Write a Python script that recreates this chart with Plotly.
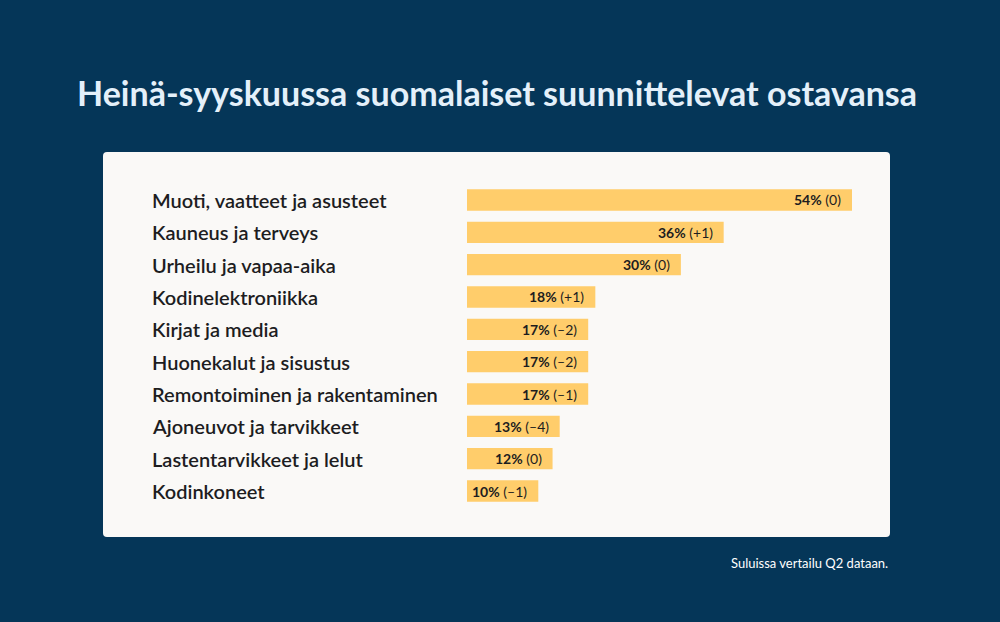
import plotly.graph_objects as go

categories = [
    "Muoti, vaatteet ja asusteet",
    "Kauneus ja terveys",
    "Urheilu ja vapaa-aika",
    "Kodinelektroniikka",
    "Kirjat ja media",
    "Huonekalut ja sisustus",
    "Remontoiminen ja rakentaminen",
    "Ajoneuvot ja tarvikkeet",
    "Lastentarvikkeet ja lelut",
    "Kodinkoneet",
]
shares = [54, 36, 30, 18, 17, 17, 17, 13, 12, 10]
changes = ["0", "+1", "0", "+1", "–2", "–2", "–1", "–4", "0", "–1"]

NAVY = "#053658"
PANEL = "#faf9f7"
BAR = "#ffcd6b"
INK = "#1d1d1f"
FONT = "Lato"

fig = go.Figure()
fig.add_trace(go.Bar(
    x=shares, y=categories, orientation="h",
    marker=dict(color=BAR, line=dict(width=0)),
    width=0.66, hoverinfo="skip",
))

# panel with slightly rounded corners (paper coords)
x0, x1, y0, y1 = 0.103, 0.890, 1 - 537 / 622, 1 - 152 / 622
rx, ry = 4 / 1000, 4 / 622
path = (f"M {x0+rx},{y0} L {x1-rx},{y0} Q {x1},{y0} {x1},{y0+ry} "
        f"L {x1},{y1-ry} Q {x1},{y1} {x1-rx},{y1} L {x0+rx},{y1} "
        f"Q {x0},{y1} {x0},{y1-ry} L {x0},{y0+ry} Q {x0},{y0} {x0+rx},{y0} Z")
fig.add_shape(type="path", path=path, xref="paper", yref="paper",
              fillcolor=PANEL, line=dict(width=0), layer="below")

for cat, val, ch in zip(categories, shares, changes):
    fig.add_annotation(x=0.150, xref="paper", y=cat, yref="y", text=cat,
                       showarrow=False, xanchor="left",
                       font=dict(family=FONT, size=20, color=INK, weight=600))
    fig.add_annotation(x=val, xref="x", y=cat, yref="y",
                       text=f"<b>{val}%</b> ({ch})", showarrow=False,
                       xanchor="right", xshift=-9,
                       font=dict(family=FONT, size=14, color=INK))

fig.add_annotation(x=0.497, xref="paper", y=1 - 93 / 622, yref="paper",
                   text="<b>Heinä-syyskuussa suomalaiset suunnittelevat ostavansa</b>",
                   showarrow=False, xanchor="center", yanchor="middle",
                   font=dict(family=FONT, size=34, color="#e4f0fa"))
fig.add_annotation(x=0.890, xref="paper", y=1 - 563 / 622, yref="paper",
                   text="Suluissa vertailu Q2 dataan.", showarrow=False,
                   xanchor="right", yanchor="middle",
                   font=dict(family=FONT, size=13, color="#ffffff"))

fig.update_layout(
    width=1000, height=622,
    margin=dict(l=0, r=0, t=0, b=0),
    paper_bgcolor=NAVY, plot_bgcolor="rgba(0,0,0,0)",
    showlegend=False,
    xaxis=dict(domain=[0.467, 0.852], range=[0, 54], visible=False, fixedrange=True),
    yaxis=dict(domain=[1 - 507.2 / 622, 1 - 183.8 / 622], range=[9.5, -0.5],
               visible=False, fixedrange=True),
)

fig.write_html("out.html", config={"displayModeBar": False},
               post_script="document.body.style.margin='0';")
